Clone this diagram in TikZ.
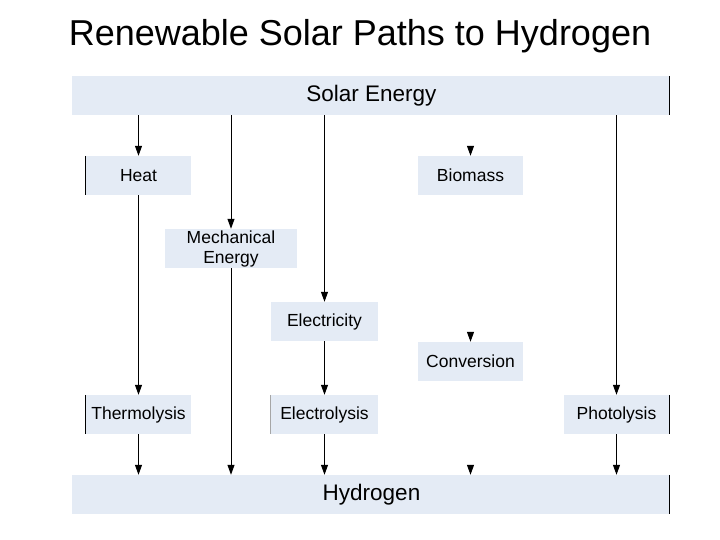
\documentclass[tikz,border=0pt]{standalone}
\usepackage{fontspec}
\setmainfont{Liberation Sans}
\usetikzlibrary{arrows.meta,calc}
\definecolor{boxfill}{HTML}{E4EBF5}
\tikzset{
  box/.style={fill=boxfill, draw=none, inner sep=0pt, align=center, font=\fontsize{17.5}{20}\selectfont},
  bigbox/.style={box, font=\fontsize{22.5}{25}\selectfont},
  arr/.style={-{Triangle[length=10pt,width=7pt]}, line width=1pt, black},
  edge/.style={line width=1.2pt, black},
  grayedge/.style={line width=1pt, black!35}
}
\begin{document}
\begin{tikzpicture}[x=1pt,y=-1pt]
\useasboundingbox (0,0) rectangle (720,540);
\node[font=\fontsize{36}{38}\selectfont] (title) at (360,36) {Renewable Solar Paths to Hydrogen};
% boxes
\node[bigbox, minimum width=597pt, minimum height=39pt] (solar) at (370.5,95.5) {\hspace*{2pt}Solar Energy};
\node[box, minimum width=105pt, minimum height=39pt] (heat) at (138.5,175.5) {Heat};
\node[box, minimum width=105pt, minimum height=39pt] (bio) at (470.5,175.5) {Biomass};
\node[box, minimum width=132pt, minimum height=39pt] (mech) at (231,248.5) {Mechanical\\Energy};
\node[box, minimum width=107pt, minimum height=39pt] (elec) at (324.5,321.5) {Electricity};
\node[box, minimum width=105pt, minimum height=39pt] (conv) at (470.5,361.5) {Conversion};
\node[box, minimum width=105pt, minimum height=39pt] (thermo) at (138.5,414.5) {Thermolysis};
\node[box, minimum width=107pt, minimum height=39pt] (electro) at (324.5,414.5) {Electrolysis};
\node[box, minimum width=105pt, minimum height=39pt] (photo) at (616.5,414.5) {Photolysis};
\node[bigbox, minimum width=597pt, minimum height=39pt] (hyd) at (370.5,494.5) {\hspace*{2pt}Hydrogen};
% dark edges
\draw[edge] (solar.north east) -- (solar.south east);
\draw[edge] (heat.north west) -- (heat.south west);
\draw[edge] (thermo.north west) -- (thermo.south west);
\draw[grayedge] (electro.north west) -- (electro.south west);
\draw[edge] (photo.north east) -- (photo.south east);
\draw[edge] (hyd.north east) -- (hyd.south east);
% column 1 (x=139)
\draw[arr] (solar.south -| heat.north) -- (heat.north);
\draw[arr] (heat.south) -- (thermo.north);
\draw[arr] (thermo.south) -- (hyd.north -| thermo.south);
% column 2 (x=232)
\draw[arr] (solar.south -| mech.north) -- (mech.north);
\draw[arr] (mech.south) -- (hyd.north -| mech.south);
% column 3 (x=324)
\draw[arr] (solar.south -| elec.north) -- (elec.north);
\draw[arr] (elec.south) -- (electro.north);
\draw[arr] (electro.south) -- (hyd.north -| electro.south);
% column 4 (x=470) arrowheads only
\coordinate (b1) at ($(bio.north)+(0,-10)$);
\coordinate (b2) at ($(conv.north)+(0,-10)$);
\coordinate (b3) at ($(hyd.north -| conv.north)+(0,-10)$);
\draw[arr] (b1) -- (bio.north);
\draw[arr] (b2) -- (conv.north);
\draw[arr] (b3) -- (hyd.north -| conv.north);
% column 5 (x=617)
\draw[arr] (solar.south -| photo.north) -- (photo.north);
\draw[arr] (photo.south) -- (hyd.north -| photo.south);
\end{tikzpicture}
\end{document}
